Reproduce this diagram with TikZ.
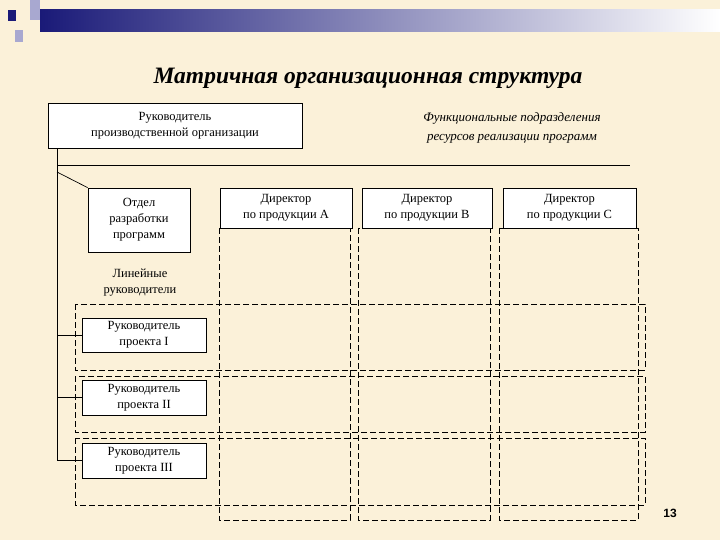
\documentclass[tikz,border=0pt]{standalone}
\usepackage{fontspec}
\setmainfont{Liberation Serif}
\newfontfamily\numfont{Liberation Sans}
\definecolor{bg}{HTML}{FBF1D9}
\definecolor{navy}{HTML}{1A1A78}
\definecolor{lav}{HTML}{A8A8D0}
\begin{document}
\begin{tikzpicture}[x=1pt,y=-1pt,
  box/.style={draw,fill=white,line width=0.7pt,align=center,font=\fontsize{12.5}{16}\selectfont,inner sep=1pt},
  dbox/.style={draw,dash pattern=on 6pt off 3pt,line width=0.6pt},
  ln/.style={line width=0.7pt}]
\fill[bg] (0,0) rectangle (720,540);
\useasboundingbox (0,0) rectangle (720,540);
% banner
\shade[left color=navy,right color=white] (40,10) rectangle (720,32);
\fill[lav] (30,0) rectangle (40,20);
\fill[navy] (8,10) rectangle (16,21);
\fill[lav] (15,30) rectangle (23,42);
\node (title) at (368,78) {\fontsize{23.5}{26}\selectfont\bfseries\itshape Матричная организационная структура};
% dashed grid
\draw[dbox] (219,228) rectangle (350,520);
\draw[dbox] (358,228) rectangle (490,520);
\draw[dbox] (499,228) rectangle (638,520);
\draw[dbox] (75,304) rectangle (645,370);
\draw[dbox] (75,376) rectangle (645,432);
\draw[dbox] (75,438) rectangle (645,505);
% nodes
\node[box,minimum width=254,minimum height=45] (top) at (175,125.5) {Руководитель\\производственной организации};
\node[align=center,font=\fontsize{13}{19}\selectfont\itshape] (func) at (512,128) {Функциональные подразделения\\ресурсов реализации программ};
\coordinate (hl) at (57,165);
\coordinate (hr) at (630,165);
\node[box,minimum width=102,minimum height=64] (otd) at (139,220) {Отдел\\разработки\\программ};
\node[box,minimum width=132,minimum height=40] (da) at (286,208) {Директор\\по продукции А};
\node[box,minimum width=130,minimum height=40] (db) at (427,208) {Директор\\по продукции В};
\node[box,minimum width=133,minimum height=40] (dc) at (569.5,208) {Директор\\по продукции С};
\node[align=center,font=\fontsize{12.5}{16}\selectfont] (lin) at (140,283) {Линейные\\руководители};
\node[box,minimum width=124,minimum height=34] (p1) at (144,335) {Руководитель\\проекта I};
\node[box,minimum width=124,minimum height=35] (p2) at (144,397.5) {Руководитель\\проекта II};
\node[box,minimum width=124,minimum height=35] (p3) at (144,460.5) {Руководитель\\проекта III};
\coordinate (vb) at (57,460.5);
\coordinate (dg) at (57,172);
\node[font=\numfont\bfseries\fontsize{12}{13}\selectfont] (num) at (670,513) {13};
% connectors
\draw[ln] (top.south -| hl) -- (vb);
\draw[ln] (hl) -- (hr);
\draw[ln] (dg) -- (otd.north west);
\draw[ln] (p1.west -| hl) -- (p1.west);
\draw[ln] (p2.west -| hl) -- (p2.west);
\draw[ln] (vb) -- (p3.west);
\end{tikzpicture}
\end{document}
